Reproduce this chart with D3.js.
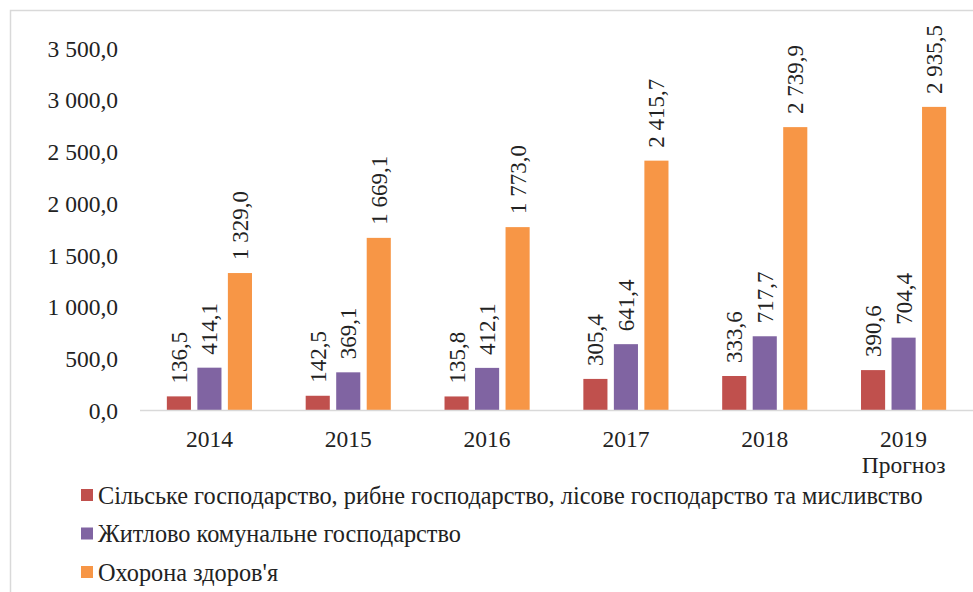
<!DOCTYPE html>
<html>
<head>
<meta charset="utf-8">
<script src="https://cdn.jsdelivr.net/npm/d3@7"></script>
<style>
  body { margin: 0; background: #fff; }
  text { font-family: "Times New Roman", "Liberation Serif", serif; fill: #222; }
</style>
</head>
<body>
<script>
// Data
const years = ["2014", "2015", "2016", "2017", "2018", "2019"];
const seriesNames = [
  "Сільське господарство, рибне господарство, лісове господарство та мисливство",
  "Житлово комунальне господарство",
  "Охорона здоров'я"
];
const agriculture = [136.5, 142.5, 135.8, 305.4, 333.6, 390.6];
const housing = [414.1, 369.1, 412.1, 641.4, 717.7, 704.4];
const health = [1329.0, 1669.1, 1773.0, 2415.7, 2739.9, 2935.5];
const yTicks = [0, 500, 1000, 1500, 2000, 2500, 3000, 3500];
const colors = ["#c0504d", "#8064a2", "#f79646"];

const width = 973, height = 592;
const margin = {top: 48.5, right: 0, bottom: 181.5, left: 140};

const fmt = v => d3.format(",.1f")(v).replace(/,/g, " ").replace(".", ",");

const svg = d3.select("body").append("svg")
  .attr("width", width)
  .attr("height", height);

// Chart border
svg.append("path")
  .attr("d", `M10.5,${height} V10.5 H${width}`)
  .attr("fill", "none")
  .attr("stroke", "#d9d9d9")
  .attr("stroke-width", 1.5);

const x = d3.scaleBand()
  .domain(years)
  .range([margin.left, width - margin.right]);

const series = [agriculture, housing, health];
const x1 = d3.scaleBand()
  .domain(d3.range(series.length))
  .range([0, x.bandwidth()])
  .paddingInner(0.21)
  .paddingOuter(0.88);

const y = d3.scaleLinear()
  .domain([0, 3500])
  .range([height - margin.bottom, margin.top]);

// Y axis labels
svg.append("g")
  .selectAll("text")
  .data(yTicks)
  .join("text")
  .attr("x", 118)
  .attr("y", d => y(d))
  .attr("dy", "0.35em")
  .attr("text-anchor", "end")
  .attr("font-size", 23.5)
  .text(fmt);

// Bars
const groups = svg.append("g")
  .selectAll("g")
  .data(years)
  .join("g")
  .attr("transform", d => `translate(${x(d)},0)`);

groups.selectAll("rect")
  .data((d, i) => series.map((s, k) => ({k, v: s[i]})))
  .join("rect")
  .attr("x", d => x1(d.k))
  .attr("width", x1.bandwidth())
  .attr("y", d => y(d.v))
  .attr("height", d => y(0) - y(d.v))
  .attr("fill", d => colors[d.k]);

// Value labels
groups.selectAll("text.val")
  .data((d, i) => series.map((s, k) => ({k, v: s[i]})))
  .join("text")
  .attr("class", "val")
  .attr("transform", d => `translate(${x1(d.k) + x1.bandwidth() / 2},${y(d.v) - 13}) rotate(-90)`)
  .attr("dy", "0.35em")
  .attr("text-anchor", "start")
  .attr("font-size", 23)
  .text(d => fmt(d.v));

// Baseline
svg.append("line")
  .attr("x1", margin.left)
  .attr("x2", width)
  .attr("y1", y(0))
  .attr("y2", y(0))
  .attr("stroke", "#d9d9d9")
  .attr("stroke-width", 1.5);

// X labels
svg.append("g")
  .selectAll("text")
  .data(years)
  .join("text")
  .attr("x", d => x(d) + x.bandwidth() / 2)
  .attr("y", 447)
  .attr("text-anchor", "middle")
  .attr("font-size", 23.5)
  .text(d => d);

svg.append("text")
  .attr("x", x("2019") + x.bandwidth() / 2)
  .attr("y", 473)
  .attr("text-anchor", "middle")
  .attr("font-size", 23.5)
  .text("Прогноз");

// Legend
const legend = svg.append("g")
  .selectAll("g")
  .data(seriesNames)
  .join("g")
  .attr("transform", (d, i) => `translate(81,${495 + i * 38.5})`);

legend.append("rect")
  .attr("x", 0)
  .attr("y", -6)
  .attr("width", 12)
  .attr("height", 12)
  .attr("fill", (d, i) => colors[i]);

legend.append("text")
  .attr("x", 17)
  .attr("y", 0)
  .attr("dy", "0.35em")
  .attr("font-size", 24.3)
  .text(d => d);
</script>
</body>
</html>
